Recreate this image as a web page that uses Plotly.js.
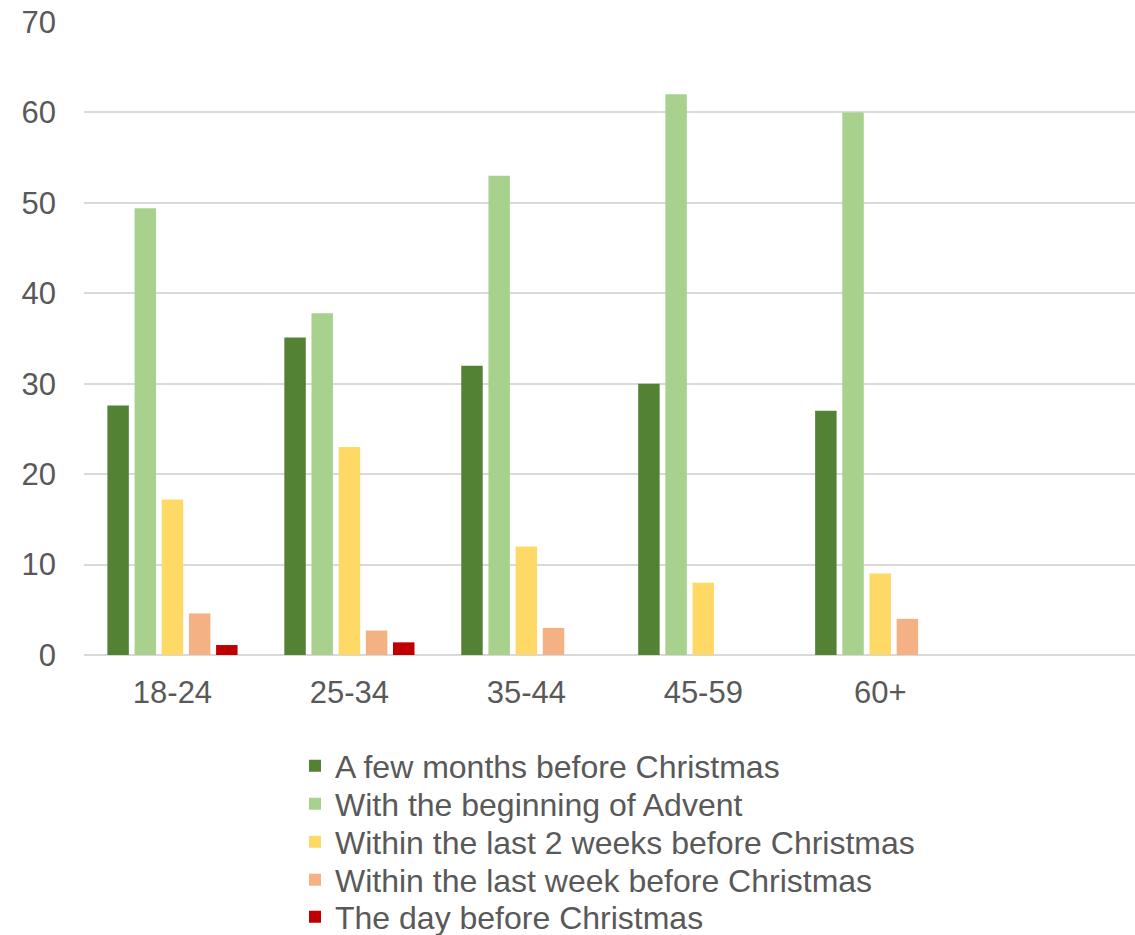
<!DOCTYPE html>
<html>
<head>
<meta charset="utf-8">
<script src="https://cdn.plot.ly/plotly-3.0.1.min.js"></script>
<style>
html,body{margin:0;padding:0;background:#fff;}
#chart{width:1135px;height:935px;}
</style>
</head>
<body>
<div id="chart"></div>
<script>
var categories = ["18-24", "25-34", "35-44", "45-59", "60+"];
var seriesNames = [
  "A few months before Christmas",
  "With the beginning of Advent",
  "Within the last 2 weeks before Christmas",
  "Within the last week before Christmas",
  "The day before Christmas"
];
var fewMonths = [27.6, 35.1, 32, 30, 27];
var advent = [49.4, 37.8, 53, 62, 60];
var twoWeeks = [17.2, 23.0, 12, 8, 9];
var lastWeek = [4.6, 2.7, 3, 0, 4];
var dayBefore = [1.1, 1.4, 0, 0, 0];
var yTicks = [0, 10, 20, 30, 40, 50, 60, 70];

var colors = ["#548235", "#a9d18e", "#ffd966", "#f4b183", "#c00000"];
var allValues = [fewMonths, advent, twoWeeks, lastWeek, dayBefore];
var legendIds = ["legend", "legend2", "legend3", "legend4", "legend5"];

var traces = allValues.map(function (vals, i) {
  return {
    type: "bar",
    name: seriesNames[i],
    x: categories,
    y: vals,
    legend: legendIds[i],
    marker: { color: colors[i], line: { width: 0 } },
    hoverinfo: "x+y+name"
  };
});

var font = "Liberation Sans, Arial, sans-serif";
var textColor = "#595959";
var layout = {
  width: 1135,
  height: 935,
  margin: { l: 84, r: 0, t: 22, b: 280, autoexpand: false },
  paper_bgcolor: "#ffffff",
  plot_bgcolor: "#ffffff",
  barmode: "group",
  bargap: 0.232,
  bargroupgap: 0.21,
  font: { family: font, size: 31, color: textColor },
  showlegend: true,
  xaxis: {
    type: "category",
    range: [-0.5, 5.44],
    showgrid: false,
    showline: false,
    zeroline: false,
    ticks: "",
    tickfont: { family: font, size: 31, color: textColor },
    ticklabelstandoff: 16,
    fixedrange: true
  },
  yaxis: {
    range: [0, 70],
    tickvals: yTicks,
    ticktext: yTicks.map(String),
    showgrid: true,
    gridcolor: "#d9d9d9",
    gridwidth: 2,
    zeroline: true,
    zerolinecolor: "#d9d9d9",
    zerolinewidth: 2,
    showline: false,
    ticks: "",
    tickfont: { family: font, size: 31, color: textColor },
    ticklabelstandoff: 27,
    fixedrange: true
  }
};

// legend row centres (px from top), converted to paper coordinates
var plotBottom = 935 - 280, plotHeight = 935 - 280 - 22;
var rowCentres = [766, 804, 842, 880, 917];
legendIds.forEach(function (id, i) {
  layout[id] = {
    orientation: "v",
    x: (295 - 84) / (1135 - 84),
    xanchor: "left",
    y: (plotBottom - rowCentres[i]) / plotHeight,
    yanchor: "middle",
    font: { family: font, size: 32, color: textColor },
    bgcolor: "rgba(0,0,0,0)",
    borderwidth: 0
  };
});

Plotly.newPlot("chart", traces, layout, { displayModeBar: false, staticPlot: true });
</script>
</body>
</html>
